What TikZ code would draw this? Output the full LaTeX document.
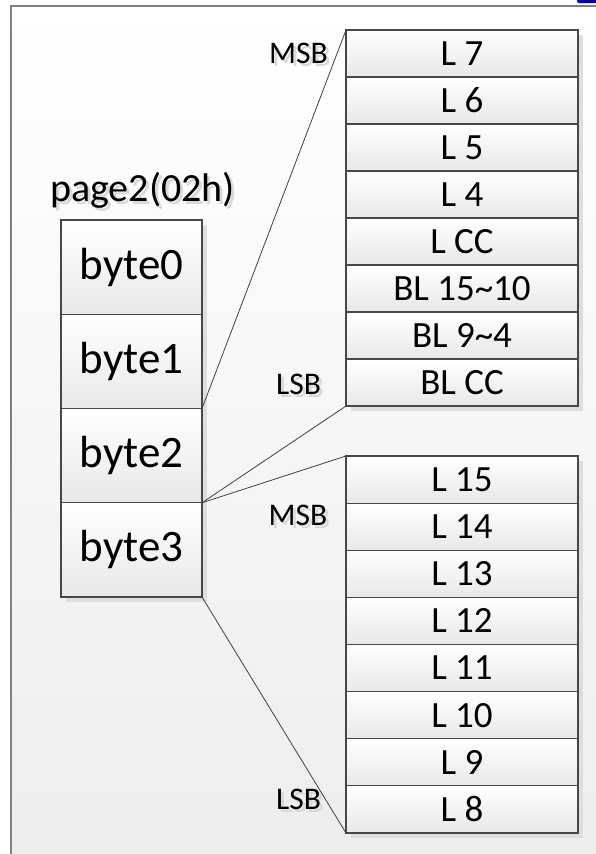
\documentclass[tikz,border=0pt]{standalone}
\usepackage{fontspec}
\setmainfont{Carlito}
\newcommand\shtext[1]{\rlap{\kern3pt\raisebox{-3pt}{\textcolor{black!15}{#1}}}#1}
\begin{document}
\begin{tikzpicture}[x=1pt,y=-1pt,
  cell/.style={draw=black!72, line width=1.2pt, top color=white, bottom color=black!9,
    minimum width=232pt, minimum height=47.1pt, inner sep=0pt, outer sep=0pt,
    anchor=north west, font=\fontsize{37}{40}\selectfont},
  bytebox/.style={draw=black!72, line width=1.2pt, top color=white, bottom color=black!9,
    minimum width=141pt, minimum height=94.25pt, inner sep=0pt, outer sep=0pt,
    anchor=north west, font=\fontsize{45}{48}\selectfont},
  shadowbox/.style={fill=black!13},
  conn/.style={draw=black!75, line width=0.8pt},
  lbl/.style={font=\fontsize{31.5}{34}\selectfont, anchor=base, inner sep=0pt},
  titlelbl/.style={lbl, font=\fontsize{40}{44}\selectfont}
]
\useasboundingbox (0,0) rectangle (595,854);
% background and frame
\shade[top color=white, bottom color=black!7] (11,6) rectangle (600,860);
\draw[black!50, line width=2pt] (11,860) -- (11,6) -- (600,6);
\fill[blue!65!black, rounded corners=2pt] (577,-4) rectangle (600,3);

% shadows
\fill[shadowbox] (66,225) rectangle (207,602);
\fill[shadowbox] (351,35) rectangle (583,411);
\fill[shadowbox] (351,461) rectangle (583,838);

% left column
\foreach \i/\t in {0/byte0,1/byte1,2/byte2,3/byte3}{
  \node[bytebox] (y\i) at (61,{220+94.25*\i}) {\t};
}
% top register
\foreach \i/\t in {0/L 7,1/L 6,2/L 5,3/L 4,4/L CC,5/BL 15\textasciitilde10,6/BL 9\textasciitilde4,7/BL CC}{
  \node[cell, minimum height=47pt] (t\i) at (346,{30+47*\i}) {\t};
}
% bottom register
\foreach \i/\t in {0/L 15,1/L 14,2/L 13,3/L 12,4/L 11,5/L 10,6/L 9,7/L 8}{
  \node[cell] (b\i) at (346,{456+47.125*\i}) {\t};
}

% connectors
\draw[conn] (y2.north east) -- (t0.north west);
\draw[conn] (y2.south east) -- (t7.south west);
\draw[conn] (y3.north east) -- (b0.north west);
\draw[conn] (y3.south east) -- (b7.south west);

% labels with soft shadows
\node[titlelbl] (p) at (142.5,201) {\shtext{page2(02h)}};
\node[lbl] (m1) at (298.5,63) {\shtext{MSB}};
\node[lbl] (l1) at (298.5,394) {\shtext{LSB}};
\node[lbl] (m2) at (298,525) {\shtext{MSB}};
\node[lbl] (l2) at (298.5,809) {\shtext{LSB}};
\end{tikzpicture}
\end{document}
